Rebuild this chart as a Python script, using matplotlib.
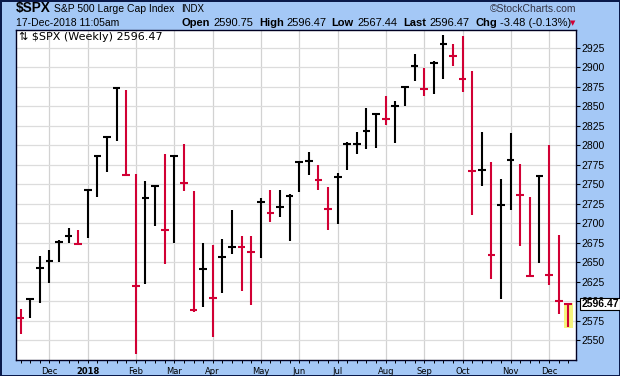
import numpy as np
import pandas as pd
import matplotlib
matplotlib.use("Agg")
import matplotlib.pyplot as plt
import matplotlib.transforms as mtransforms
from matplotlib.patches import Rectangle

plt.rcParams['text.parse_math'] = False
plt.rcParams['font.family'] = ['Liberation Sans', 'DejaVu Sans']

# $SPX weekly bars, week of 13-Nov-2017 .. week of 17-Dec-2018
week_start = pd.date_range("2017-11-13", periods=58, freq="W-MON")
highs = [2590.0, 2604.0, 2657.7, 2665.2, 2679.0, 2694.0, 2692.0, 2743.2, 2786.2, 2810.3,
         2872.9, 2870.6, 2763.4, 2754.4, 2747.8, 2789.2, 2786.6, 2801.9, 2741.4, 2674.8,
         2672.1, 2680.3, 2717.5, 2683.6, 2683.6, 2732.9, 2743.3, 2743.3, 2737.7, 2779.9,
         2791.5, 2775.0, 2746.7, 2764.4, 2804.5, 2816.8, 2848.0, 2841.6, 2863.4, 2856.6,
         2876.2, 2916.5, 2899.4, 2908.3, 2940.9, 2930.1, 2939.9, 2894.7, 2816.9, 2779.0,
         2756.6, 2815.2, 2776.0, 2733.7, 2760.9, 2800.2, 2685.4, 2596.47]
lows = [2558.0, 2578.0, 2598.0, 2624.0, 2650.4, 2675.0, 2673.6, 2681.0, 2734.3, 2766.0,
        2806.0, 2760.0, 2532.7, 2622.0, 2696.0, 2647.3, 2675.0, 2741.4, 2585.9, 2593.1,
        2553.8, 2610.8, 2660.7, 2612.7, 2594.6, 2655.2, 2701.4, 2707.8, 2676.8, 2740.0,
        2761.7, 2742.4, 2692.0, 2699.0, 2768.0, 2788.6, 2795.4, 2796.7, 2825.8, 2803.0,
        2850.0, 2883.0, 2863.1, 2865.2, 2884.4, 2901.5, 2868.2, 2710.5, 2747.7, 2628.2,
        2603.5, 2717.4, 2670.8, 2631.1, 2649.5, 2621.5, 2583.2, 2567.44]
closes = [2578.9, 2602.4, 2642.2, 2651.5, 2675.8, 2683.3, 2673.6, 2743.2, 2786.2, 2810.3,
          2872.9, 2762.1, 2619.6, 2732.2, 2747.3, 2691.3, 2786.6, 2752.0, 2588.3, 2640.9,
          2604.5, 2656.3, 2670.1, 2669.9, 2663.4, 2727.7, 2713.0, 2721.3, 2734.6, 2779.0,
          2779.7, 2754.9, 2718.4, 2759.8, 2801.3, 2801.8, 2818.8, 2840.4, 2833.3, 2850.1,
          2874.7, 2901.5, 2871.7, 2905.0, 2929.7, 2914.0, 2885.6, 2767.1, 2767.8, 2658.7,
          2723.1, 2781.0, 2736.3, 2632.6, 2760.2, 2633.1, 2600.0, 2596.47]
prev_close = 2582.3  # close of the week before the first bar

month_labels = ['Dec', '2018', 'Feb', 'Mar', 'Apr', 'May', 'Jun', 'Jul',
                'Aug', 'Sep', 'Oct', 'Nov', 'Dec']
price_ticks = list(range(2550, 2926, 25))

last_info = {'Open': '2590.75', 'High': '2596.47', 'Low': '2567.44',
             'Last': '2596.47', 'Chg': '-3.48 (-0.13%)'}

BG = '#A4C8F6'
RED = '#D10034'

x = np.arange(len(closes))
prior = np.r_[prev_close, closes[:-1]]
colors = np.where(np.array(closes) < prior, RED, 'black')

fig = plt.figure(figsize=(6.2, 3.76), dpi=100)
fig.patch.set_facecolor(BG)
fig.patch.set_edgecolor('#0A1A4A')
fig.patch.set_linewidth(2)

W, H = 620, 376
ax = fig.add_axes([16 / W, 16 / H, 560 / W, 330 / H])
ax.set_facecolor('white')
ax.set_xlim(-0.47, 57.8)
ax.set_ylim(2524.7, 2947.8)

# grid / ticks
month_idx = [i for i in range(1, len(week_start)) if week_start[i].month != week_start[i - 1].month]
ax.set_xticks(month_idx)
ax.set_xticks(x, minor=True)
ax.set_xticklabels(month_labels, fontsize=6, family='DejaVu Sans')
for lbl in ax.get_xticklabels():
    if lbl.get_text().isdigit():
        lbl.set_fontweight('bold')
ax.set_yticks(price_ticks)
ax.yaxis.tick_right()
ax.set_yticklabels([str(p) for p in price_ticks], fontsize=7.5)
ax.grid(axis='y', color='#DCDCDC', lw=0.9)
ax.grid(axis='x', color='#D2D2D2', lw=0.9)
ax.set_axisbelow(True)
ax.tick_params(axis='y', length=3, width=0.8, pad=1)
ax.tick_params(axis='x', which='both', length=2.5, width=0.7, pad=2.5)
for s in ax.spines.values():
    s.set_color('#000022')
    s.set_linewidth(1.0)

# highlight last bar
ax.add_patch(Rectangle((x[-1] - 0.48, lows[-1] - 1.5), 0.96, highs[-1] - lows[-1] + 2.5,
                       facecolor='#F6F47C', edgecolor='none', zorder=1))

# HLC bars
ax.vlines(x, lows, highs, colors=colors, lw=1.5, zorder=3)
ax.hlines(closes, x - 0.4, x + 0.4, colors=colors, lw=1.5, zorder=3)

# last value tag (sits over the 2600 axis label, as on the site)
trans = mtransforms.blended_transform_factory(ax.transAxes, ax.transData)
ax.text(1.01, closes[-1], f"{closes[-1]:.2f}", transform=trans, ha='left', va='center',
        fontsize=7.5, fontweight='bold', clip_on=False, zorder=5,
        bbox=dict(boxstyle='square,pad=0.12', fc='white', ec='black', lw=0.8))

# legend line inside plot
ax.text(3 / 560, 1 - 7 / 330, f"\u21c5 $SPX (Weekly) {closes[-1]:.2f}", transform=ax.transAxes,
        ha='left', va='center', fontsize=8, family='DejaVu Sans')

# header
def ftxt(px, base, s, **kw):
    fig.text(px / W, 1 - base / H, s, va='baseline', ha=kw.pop('ha', 'left'), **kw)

ftxt(16, 12, "$SPX", fontsize=9.8, fontweight='bold')
ftxt(54, 12, "S&P 500 Large Cap Index", fontsize=7.5)
ftxt(181, 12, "INDX", fontsize=7)
ftxt(576, 12.5, "\u00a9StockCharts.com", fontsize=7.5, color='#333344', ha='right')
ftxt(16, 26, "17-Dec-2018 11:05am", fontsize=7.5)

label_x = {'Open': 182, 'High': 259, 'Low': 331, 'Last': 403, 'Chg': 475}
value_x = {'Open': 213, 'High': 286, 'Low': 357, 'Last': 429, 'Chg': 500}
for k, v in last_info.items():
    ftxt(label_x[k], 26, k, fontsize=8, fontweight='bold')
    ftxt(value_x[k], 26, v, fontsize=8)
ftxt(570, 25, "\u25bc", fontsize=5, color=RED, family='DejaVu Sans')

fig.savefig("out.png", dpi=100, facecolor=fig.get_facecolor(), edgecolor=fig.get_edgecolor())
